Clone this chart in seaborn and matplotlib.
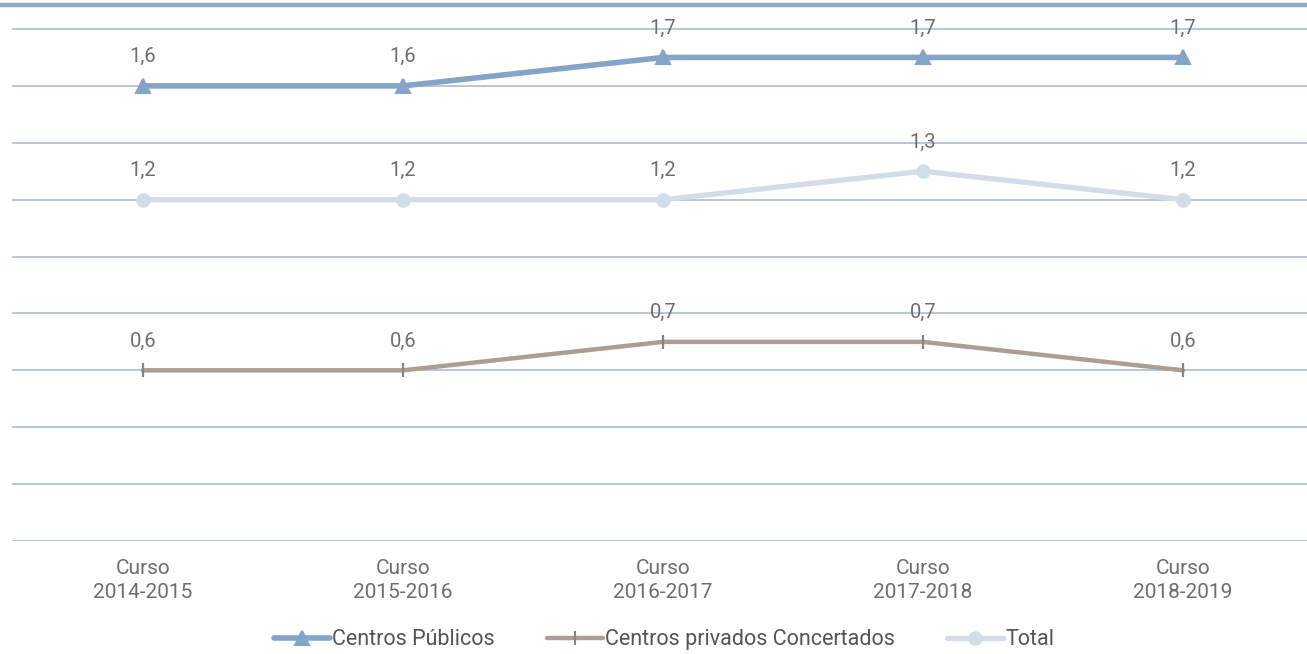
import numpy as np
import matplotlib.pyplot as plt
import seaborn as sns
import pandas as pd
from matplotlib.lines import Line2D

cursos = ['Curso\n2014-2015', 'Curso\n2015-2016', 'Curso\n2016-2017', 'Curso\n2017-2018', 'Curso\n2018-2019']
publicos = [1.6, 1.6, 1.7, 1.7, 1.7]
concertados = [0.6, 0.6, 0.7, 0.7, 0.6]
total = [1.2, 1.2, 1.2, 1.3, 1.2]

series = ['Centros Públicos', 'Centros privados Concertados', 'Total']
colores = {'Centros Públicos': '#84a5c8', 'Centros privados Concertados': '#ab9f94', 'Total': '#d3dde9'}
marcadores = {'Centros Públicos': '^', 'Centros privados Concertados': '|', 'Total': 'o'}
grosor = {'Centros Públicos': 4.0, 'Centros privados Concertados': 3.2, 'Total': 3.8}
tam = {'Centros Públicos': 10, 'Centros privados Concertados': 10, 'Total': 9}

df = pd.DataFrame({'curso': cursos * 3,
                   'x': list(range(5)) * 3,
                   'valor': publicos + concertados + total,
                   'serie': [series[0]] * 5 + [series[1]] * 5 + [series[2]] * 5})

sns.set_style('white')
plt.rcParams['font.family'] = ['Roboto', 'DejaVu Sans']
texto = '#6e6e6e'

fig = plt.figure(figsize=(13.07, 6.54), dpi=100)
ax = fig.add_axes([0.0092, 0.1728, 0.9908, 0.812])

# lineas de la rejilla
for yv in np.arange(0, 1.81, 0.2):
    ax.axhline(yv, color='#a3b8cd', lw=1.1, zorder=1)

# orden de dibujo: total debajo
for s in ['Total', 'Centros privados Concertados', 'Centros Públicos']:
    d = df[df['serie'] == s]
    sns.lineplot(data=d, x='x', y='valor', color=colores[s], lw=grosor[s],
                 marker=marcadores[s], markersize=tam[s], markeredgewidth=1.5 if s != series[1] else 1.6,
                 markeredgecolor=colores[s] if s != series[1] else '#8f8379',
                 ax=ax, zorder=3, legend=False)
    for xi, v in zip(d['x'], d['valor']):
        ax.annotate(f'{v:.1f}'.replace('.', ','), (xi, v), xytext=(0, 21), textcoords='offset points',
                    ha='center', va='center', fontsize=14.5, color=texto)

ax.set_xlim(-0.504, 4.477)
ax.set_ylim(0, 1.867)
ax.set_xticks(range(5))
ax.set_xticklabels(cursos, fontsize=15, color=texto, linespacing=1.35)
ax.set_yticks([])
ax.tick_params(axis='x', length=0, pad=13)
ax.set_xlabel('')
ax.set_ylabel('')
for sp in ax.spines.values():
    sp.set_visible(False)

# barra superior
fig.add_artist(Line2D([0, 1], [0.9924, 0.9924], color='#8eabc8', lw=3.2, transform=fig.transFigure))

handles = [Line2D([], [], color=colores[s], lw=grosor[s], marker=marcadores[s], markersize=tam[s],
                  markeredgewidth=1.5, markeredgecolor=colores[s] if s != series[1] else '#8f8379')
           for s in series]
fig.legend(handles, series, loc='lower center', bbox_to_anchor=(0.508, -0.024), ncol=3, frameon=False,
           fontsize=15.5, labelcolor='#555555', handlelength=2.6, handletextpad=0.12, columnspacing=2.4)

fig.savefig('out.png', dpi=100)
